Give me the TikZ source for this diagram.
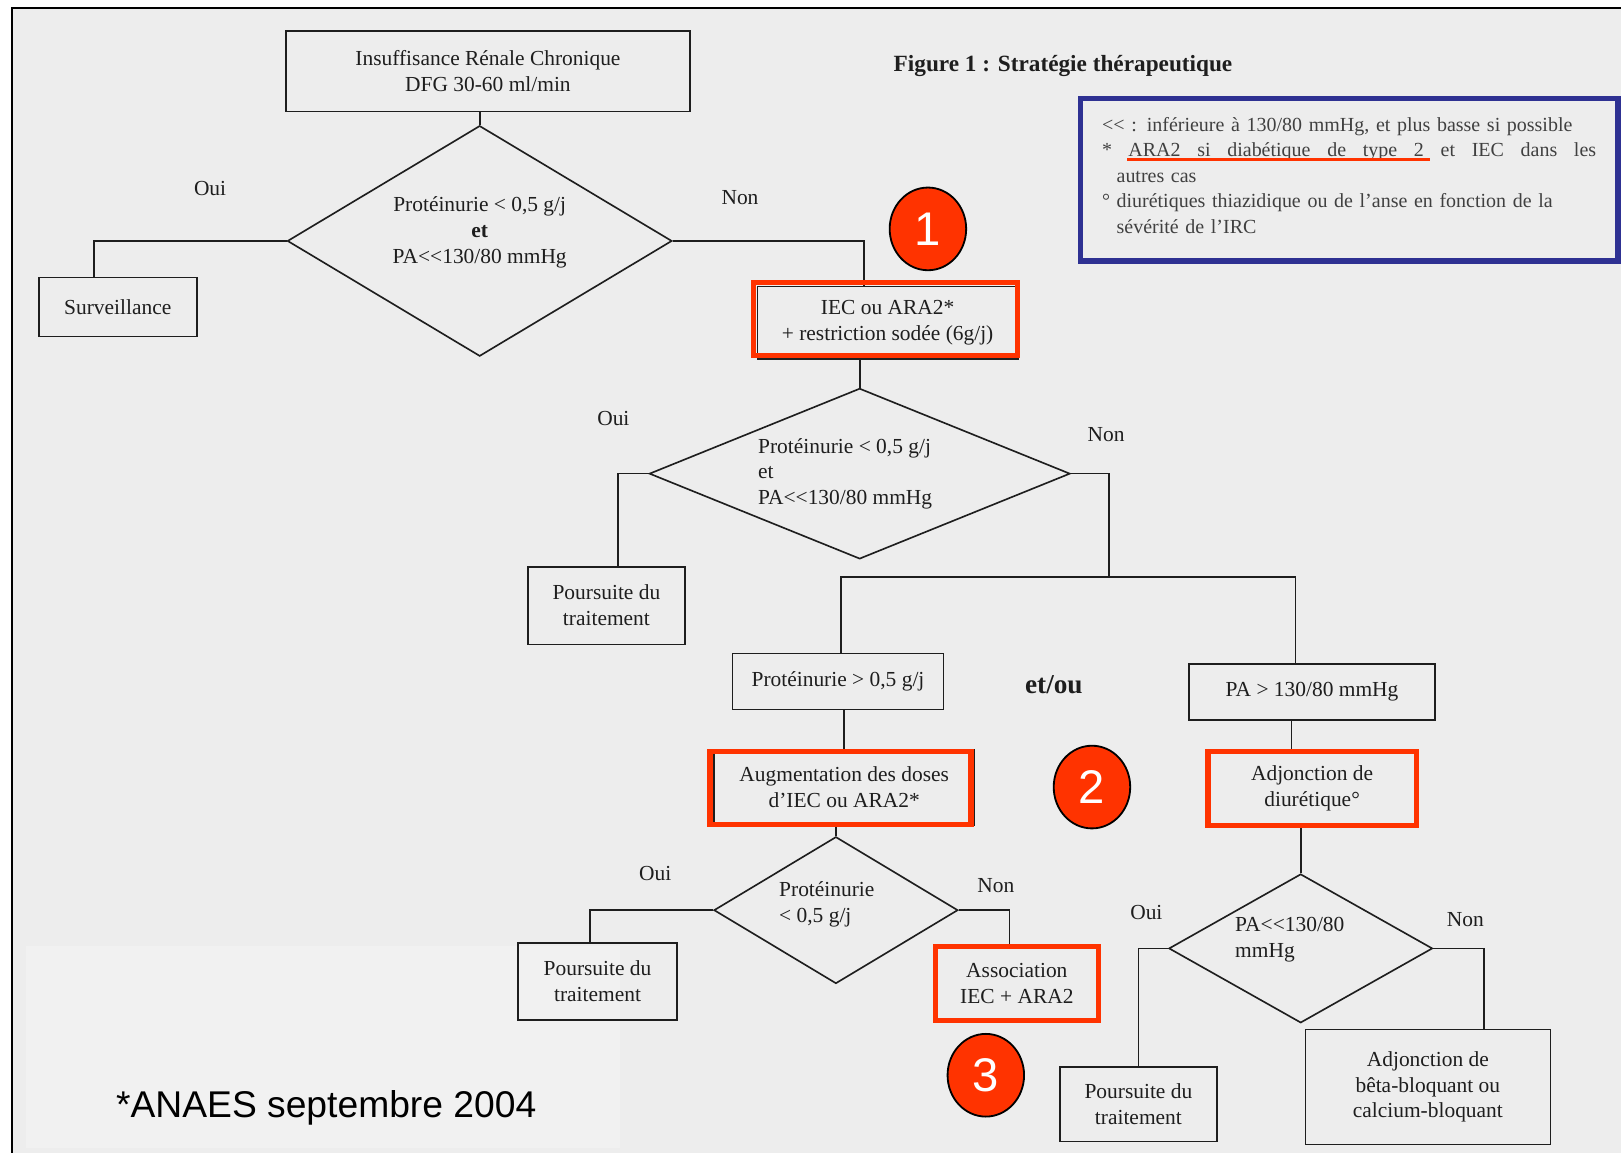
\documentclass[tikz,border=0pt]{standalone}
\usepackage{fontspec}
\setmainfont{Liberation Serif}
\newfontfamily\arial{Liberation Sans}
\usepackage{xcolor}
\usepackage{tikz}
\usetikzlibrary{shapes,arrows,positioning,calc}

\definecolor{bggray}{HTML}{EDEDED}
\definecolor{softgray}{HTML}{F1F1F1}
\definecolor{hlred}{HTML}{FF3300}
\definecolor{frameblue}{HTML}{2E3192}
\definecolor{inkgray}{HTML}{1E1E1E}

\newlength{\upx}
\setlength{\upx}{0.02cm}
\newcommand{\dlt}{<\kern0pt<}
\newcommand{\lift}[1]{\rule[-#1]{0pt}{0pt}}

\begin{document}
\begin{tikzpicture}[x=0.02cm, y=-0.02cm, font=\fontsize{11.8}{14.2}\selectfont, text=inkgray]
                    % Define styles
                    \tikzstyle{box} = [rectangle, draw=inkgray, line width=0.9pt, align=center, inner sep=2pt]
                    \tikzstyle{decision} = [diamond, draw=inkgray, line width=0.9pt, inner sep=2pt]
                    \tikzstyle{line} = [draw=inkgray, line width=0.9pt]
                    \tikzstyle{hilite} = [draw=hlred, line width=3pt]
                    \tikzstyle{badge} = [ellipse, draw=black, line width=1pt, fill=hlred, text=white, font=\arial\fontsize{26}{26}\selectfont, minimum width=74\upx, minimum height=80\upx, inner sep=0pt]
                    \tikzstyle{lbl} = [inner sep=1pt]

                    % Page
                    \useasboundingbox (0,0) rectangle (1568,1115);
                    \fill [bggray] (12,8) rectangle (1568,1115);
                    \fill [softgray] (25,915) rectangle (600,1110);
                    \draw [line width=1.2pt] (12,1115) -- (12,8) -- (1568,8);

                    % Nodes
                    \node [box, minimum width=391\upx, minimum height=78\upx] at (472,69) (top) {Insuffisance Rénale Chronique\\DFG 30-60 ml/min};
                    \node [decision, aspect=1.67, align=center, minimum width=372\upx, minimum height=223\upx, below=12\upx of top, xshift=-8\upx] (d1) {Protéinurie < 0,5 g/j\\\textbf{et}\\PA\dlt130/80 mmHg\lift{12pt}};
                    \node [box, minimum width=153\upx, minimum height=57\upx, left=86\upx of d1, yshift=-64\upx] (surv) {Surveillance};
                    \node [box, minimum width=252\upx, minimum height=70\upx, right=81\upx of d1, yshift=-79\upx] (iec) {IEC ou ARA2*\\+ restriction sodée (6g/j)};
                    \node [decision, aspect=2.47, align=left, minimum width=407\upx, minimum height=165\upx, below=27\upx of iec, xshift=-27\upx] (d2) {Protéinurie < 0,5 g/j\\et\\PA\dlt130/80 mmHg\hspace*{16pt}};
                    \node [box, minimum width=152\upx, minimum height=75\upx, below=6\upx of d2, xshift=-245\upx] (pours1) {Poursuite du\\traitement};
                    \node [box, minimum width=204\upx, minimum height=54\upx, below=90\upx of d2, xshift=-21\upx] (protsup) {Protéinurie > 0,5 g/j};
                    \node [box, minimum width=238\upx, minimum height=54\upx, right=236\upx of protsup, yshift=-10\upx] (pasup) {PA > 130/80 mmHg};
                    \node [font=\bfseries\fontsize{15}{17}\selectfont, right=72\upx of protsup, yshift=-3\upx] (etou) {et/ou};
                    \node [box, minimum width=252\upx, minimum height=73\upx, below=37\upx of protsup, xshift=6\upx] (augm) {Augmentation des doses\\d'IEC ou ARA2*};
                    \node [box, minimum width=200\upx, minimum height=70\upx, below=30\upx of pasup] (adjdiu) {Adjonction de\\diurétique°};
                    \node [decision, aspect=1.66, align=left, minimum width=236\upx, minimum height=142\upx, below=10\upx of augm, xshift=-8\upx] (d3) {Protéinurie\hspace*{10pt}\\< 0,5 g/j\lift{9pt}};
                    \node [box, minimum width=154\upx, minimum height=75\upx, left=34\upx of d3, yshift=-69\upx] (pours2) {Poursuite du\\traitement};
                    \node [box, minimum width=156\upx, minimum height=70\upx, below=117\upx of augm, xshift=167\upx] (assoc) {Association\\IEC + ARA2};
                    \node [decision, aspect=1.77, align=left, minimum width=255\upx, minimum height=144\upx, below=46\upx of adjdiu, xshift=-11\upx] (d4) {PA\dlt130/80\hspace*{12pt}\\mmHg\lift{12pt}};
                    \node [box, minimum width=152\upx, minimum height=72\upx, below=41\upx of d4, xshift=-157\upx] (pours3) {Poursuite du\\traitement};
                    \node [box, minimum width=237\upx, minimum height=111\upx, below=5\upx of d4, xshift=123\upx] (beta) {Adjonction de\\bêta-bloquant ou\\calcium-bloquant};

                    % Title, legend, source
                    \node [font=\bfseries\fontsize{12.8}{15}\selectfont, right=190\upx of top, yshift=5\upx] (title) {Figure 1 : Stratégie thérapeutique};
                    \node [draw=frameblue, line width=3pt, minimum width=520\upx, minimum height=157\upx, text width=272pt, align=left, text=black!75, font=\fontsize{11}{14}\selectfont] at (1305,174) (legend) {\dlt\ : inférieure à 130/80 mmHg, et plus basse si possible\\
                        \makebox[272pt][s]{*\hspace{9pt}ARA2\hfill si\hfill diabétique\hfill de\hfill type\hfill 2\hfill et\hfill IEC\hfill dans\hfill les}\\
                        \hspace*{8pt}autres cas\\
                        \makebox[8pt][l]{°}diurétiques thiazidique ou de l'anse en fonction de la\\
                        \hspace*{8pt}sévérité de l'IRC\lift{5pt}};
                    \draw [draw=hlred, line width=1.6pt] ($(legend.north west)+(48,61)$) -- ($(legend.north west)+(341,61)$);
                    \node [font=\arial\fontsize{20.5}{24}\selectfont, text=black, inner sep=0pt, anchor=base west] at (112,1081) (anaes) {*ANAES septembre 2004};

                    % Branch labels
                    \node [lbl] at ($(d1.west)+(-74,-51)$) (oui1) {Oui};
                    \node [lbl] at ($(d1.east)+(65,-42)$) (non1) {Non};
                    \node [lbl] at ($(d2.west)+(-34,-53)$) (oui2) {Oui};
                    \node [lbl] at ($(d2.east)+(34,-38)$) (non2) {Non};
                    \node [lbl] at ($(d3.west)+(-56,-35)$) (oui3) {Oui};
                    \node [lbl] at ($(d3.east)+(36,-24)$) (non3) {Non};
                    \node [lbl] at ($(d4.west)+(-21,-35)$) (oui4) {Oui};
                    \node [lbl] at ($(d4.east)+(31,-28)$) (non4) {Non};

                    % Lines
                    \draw [line] (d1.north) -- (d1.north |- top.south);
                    \draw [line] (d1.west) -| ($(surv.north)+(-23,0)$);
                    \draw [line] (d1.east) -| ($(iec.north)+(-23,0)$);
                    \draw [line] (d2.north) -- (d2.north |- iec.south);
                    \draw [line] (d2.west) -| ($(pours1.north)+(11,0)$);
                    \coordinate (fork) at ($(d2.east)+(37,100)$);
                    \draw [line] (d2.east) -| (fork);
                    \draw [line] ($(protsup.north)+(3,0)$) |- (fork) -| ($(pasup.north)+(-16,0)$);
                    \draw [line] (augm.north) -- (augm.north |- protsup.south);
                    \draw [line] ($(adjdiu.north)+(-20,0)$) -- ($(pasup.south)+(-20,0)$);
                    \draw [line] (d3.north) -- (d3.north |- augm.south);
                    \draw [line] (d3.west) -| ($(pours2.north)+(-7,0)$);
                    \draw [line] (d3.east) -| ($(assoc.north)+(-7,0)$);
                    \draw [line] (d4.north) -- (d4.north |- adjdiu.south);
                    \draw [line] (d4.west) -| (pours3.north);
                    \draw [line] (d4.east) -| ($(beta.north)+(54,0)$);

                    % Highlights
                    \draw [hilite] ([shift={(-3,-3)}]iec.north west) rectangle ([shift={(-1,-4)}]iec.south east);
                    \draw [hilite] ([shift={(-3,3)}]augm.north west) rectangle ([shift={(-4,-1)}]augm.south east);
                    \draw [hilite] (adjdiu.north west) rectangle (adjdiu.south east);
                    \draw [hilite] (assoc.north west) rectangle (assoc.south east);
                    \node [badge, above=14\upx of iec, xshift=39\upx] (c1) {1};
                    \node [badge, right=75\upx of augm] (c2) {2};
                    \node [badge, below=12\upx of assoc, xshift=-30\upx] (c3) {3};
                \end{tikzpicture}
\end{document}
